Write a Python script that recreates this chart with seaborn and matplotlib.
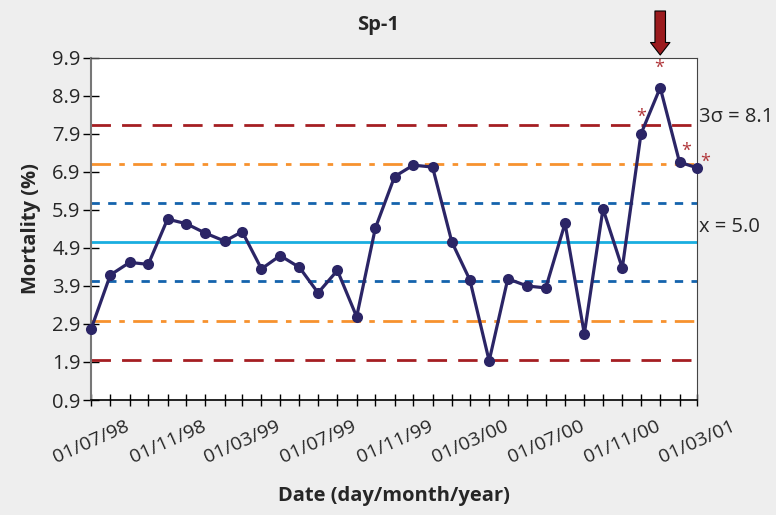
import matplotlib
matplotlib.use("Agg")
import matplotlib.pyplot as plt
import matplotlib.dates as mdates
import numpy as np
import pandas as pd
import seaborn as sns

# monthly mortality, Jul 1998 - Mar 2001
months = pd.date_range("1998-07-01", periods=33, freq="MS")
mortality = [2.76, 4.19, 4.52, 4.47, 5.66, 5.54, 5.29, 5.08, 5.33, 4.35, 4.70,
             4.39, 3.72, 4.31, 3.09, 5.42, 6.78, 7.08, 7.03, 5.06, 4.06, 1.93,
             4.09, 3.90, 3.85, 5.55, 2.64, 5.93, 4.37, 7.90, 9.12, 7.16, 7.01]
mean_val = 5.05
sigma = 1.03
flagged = [29, 30, 31, 32]          # points marked with an asterisk
arrow_idx = 30                       # point with the arrow above
y_ticks = [0.9, 1.9, 2.9, 3.9, 4.9, 5.9, 6.9, 7.9, 8.9, 9.9]

df = pd.DataFrame({"date": months, "mortality": mortality})

sns.set_theme(style="white")
plt.rcParams["font.family"] = ["Open Sans", "DejaVu Sans"]

fig = plt.figure(figsize=(7.76, 5.15), dpi=100, facecolor="#eeeeee")
ax = fig.add_axes([0.1173, 0.2233, 0.7808, 0.6641])
ax.set_facecolor("white")

# control limits
limit_styles = [
    (3, "#a51e22", (0, (7, 4))),
    (2, "#f7922e", (0, (7, 3, 2, 3))),
    (1, "#1463ad", (0, (3, 3))),
]
for k, col, ls in limit_styles:
    for sgn in (1, -1):
        ax.axhline(mean_val + sgn * k * sigma, color=col, lw=2, ls=ls, zorder=1)
ax.axhline(mean_val, color="#19aee0", lw=2, zorder=1)

sns.lineplot(data=df, x="date", y="mortality", ax=ax, color="#2b2566", lw=2.3,
             marker="o", markersize=8, markeredgewidth=0, zorder=3, clip_on=False)

# asterisks on out-of-control points
star_offsets = [(0, 17), (-1, 20), (7, 11), (8, 6)]
for i, (dx, dy) in zip(flagged, star_offsets):
    ax.annotate("*", xy=(months[i], mortality[i]), xytext=(dx, dy),
                textcoords="offset pixels", ha="center", va="center",
                color="#b0363a", fontsize=13, annotation_clip=False)

# arrow above the peak
ax.annotate("", xy=(months[arrow_idx], 460), xytext=(months[arrow_idx], 504),
            xycoords=("data", "figure pixels"), textcoords=("data", "figure pixels"),
            arrowprops=dict(arrowstyle="simple,head_width=0.7,head_length=0.45,tail_width=0.38",
                            mutation_scale=20, fc="#9b1b1e", ec="black", lw=0.8,
                            shrinkA=0, shrinkB=0),
            annotation_clip=False)

ax.set_xlim(months[0], months[-1])
ax.set_ylim(0.9, 9.9)
ax.set_yticks(y_ticks)
ax.set_yticklabels([f"{v:.1f}" for v in y_ticks])

ax.xaxis.set_major_locator(mdates.MonthLocator(bymonth=[3, 7, 11]))
ax.xaxis.set_major_formatter(mdates.DateFormatter("%d/%m/%y"))
ax.xaxis.set_minor_locator(mdates.MonthLocator())
ax.tick_params(axis="x", which="both", direction="inout", length=9, width=1,
               color="black", bottom=True, labelsize=14, pad=8)
ax.tick_params(axis="y", direction="inout", length=11, width=1, color="black",
               left=True, labelsize=14.5, pad=2)
for lab in ax.get_xticklabels():
    lab.set_rotation(24)
    lab.set_ha("center")

for side in ["top", "right"]:
    ax.spines[side].set_color("#444444")
    ax.spines[side].set_linewidth(0.8)
ax.spines["left"].set_color("#777777")
ax.spines["left"].set_linewidth(1.5)
ax.spines["bottom"].set_color("black")
ax.spines["bottom"].set_linewidth(1.2)

ax.set_xlabel("Date (day/month/year)", fontsize=14.5, fontweight="bold", labelpad=14)
ax.set_ylabel("Mortality (%)", fontsize=14.5, fontweight="bold", labelpad=8)
fig.text(0.487, 0.951, "Sp-1", ha="center", va="center", fontsize=14.5, fontweight="bold")

trans = ax.get_yaxis_transform()
ax.text(1.004, mean_val + 3 * sigma + 0.2, "3σ = 8.1", transform=trans,
        ha="left", va="center", fontsize=14.5)
ax.text(1.004, mean_val + 0.4, "x = 5.0", transform=trans,
        ha="left", va="center", fontsize=14.5)

fig.savefig("out.png", dpi=100, facecolor=fig.get_facecolor())
